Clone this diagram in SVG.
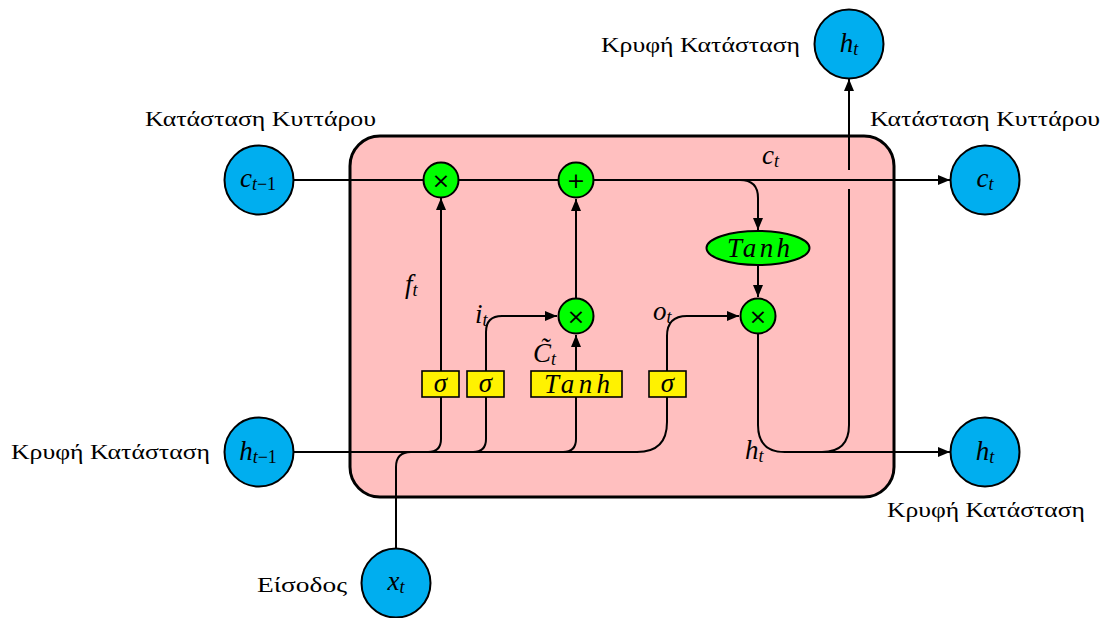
<svg xmlns="http://www.w3.org/2000/svg" width="1104" height="618" viewBox="0 0 1104 618">
<defs>
<marker id="ah" viewBox="0 0 12 10" refX="12" refY="5" markerWidth="12" markerHeight="10" markerUnits="userSpaceOnUse" orient="auto">
<path d="M0,0 L12,5 L0,10 Z" fill="#000"/>
</marker>
<style>
.ext{fill:#00AEEF;stroke:#000;stroke-width:2}
.op{fill:#00FF00;stroke:#000;stroke-width:2}
.gate{fill:#FFF200;stroke:#000;stroke-width:1.6}
.ln{fill:none;stroke:#000;stroke-width:2}
.arr{fill:none;stroke:#000;stroke-width:2;marker-end:url(#ah)}
.gr{font-family:"Liberation Serif","DejaVu Serif",serif;font-size:21px;fill:#000}
.m{font-family:"Liberation Serif","DejaVu Serif",serif;font-style:italic;font-size:27px;fill:#000}
.c{text-anchor:middle}
.s{font-size:18px}
.up{font-style:normal}
.tn{font-size:27px}
.sym{font-family:"DejaVu Sans",sans-serif;font-size:22px;fill:#000;text-anchor:middle}
</style>
</defs>
<rect id="cell" x="350" y="136" width="544" height="361" rx="30" ry="30" fill="#FFBFBF" stroke="#000" stroke-width="3"/>
<g id="connectors">
<path class="ln" d="M294,180 H423"/>
<path class="ln" d="M459,180 H558"/>
<path class="arr" d="M594,180 H950"/>
<path class="arr" d="M594,180 H740 Q758,180 758,198 V230"/>
<path class="arr" d="M758,265 V297"/>
<path class="ln" d="M294,452 H637 Q667,452 667,422 V397"/>
<path class="ln" d="M428,452 Q441,452 441,439 V397"/>
<path class="ln" d="M473,452 Q486,452 486,439 V397"/>
<path class="ln" d="M563,452 Q576,452 576,439 V397"/>
<path class="ln" d="M396,548 V467 Q396,452 411,452"/>
<path class="arr" d="M441,371 V198"/>
<path class="arr" d="M486,371 V332 Q486,316 502,316 H557"/>
<path class="arr" d="M576,371 V335"/>
<path class="arr" d="M576,298 V199"/>
<path class="arr" d="M667,371 V336 Q667,316 687,316 H739"/>
<path class="ln" d="M758,334 V425 Q758,452 785,452 H822 Q849,452 849,425 V189"/>
<path class="arr" d="M849,170 V79"/>
<path class="arr" d="M790,452 H950"/>
</g>
<g id="c_prev"><circle class="ext" cx="259" cy="180" r="34.5"/><text class="m c" x="258" y="187">c<tspan class="s" dy="3">t<tspan class="up">−1</tspan></tspan></text></g>
<g id="h_prev"><circle class="ext" cx="259" cy="452" r="34.5"/><text class="m c" x="258" y="460">h<tspan class="s" dy="3">t<tspan class="up">−1</tspan></tspan></text></g>
<g id="x_t"><circle class="ext" cx="396" cy="583" r="34.5"/><text class="m c" x="396" y="590">x<tspan class="s" dy="3">t</tspan></text></g>
<g id="c_next"><circle class="ext" cx="985" cy="180" r="34.5"/><text class="m c" x="985" y="187">c<tspan class="s" dy="3">t</tspan></text></g>
<g id="h_next"><circle class="ext" cx="985" cy="452" r="34.5"/><text class="m c" x="985" y="460">h<tspan class="s" dy="3">t</tspan></text></g>
<g id="h_top"><circle class="ext" cx="849" cy="44" r="34.5"/><text class="m c" x="849" y="52">h<tspan class="s" dy="3">t</tspan></text></g>
<g id="mul_f"><circle class="op" cx="441" cy="180" r="17.5"/><text class="sym" x="441" y="188">×</text></g>
<g id="add"><circle class="op" cx="576" cy="180" r="17.5"/><text class="sym" x="576" y="188">+</text></g>
<g id="mul_i"><circle class="op" cx="576" cy="316" r="17.5"/><text class="sym" x="576" y="324">×</text></g>
<g id="mul_o"><circle class="op" cx="758" cy="316" r="17.5"/><text class="sym" x="758" y="324">×</text></g>
<g id="tanh_c"><ellipse class="op" cx="758" cy="248" rx="51.5" ry="17"/><text class="m tn" x="727" y="257" textLength="63" lengthAdjust="spacing">Tanh</text></g>
<g id="sig_f"><rect class="gate" x="422" y="371" width="37" height="26"/><text class="m c" x="440.5" y="392">σ</text></g>
<g id="sig_i"><rect class="gate" x="467" y="371" width="37" height="26"/><text class="m c" x="485.5" y="392">σ</text></g>
<g id="tanh_g"><rect class="gate" x="531" y="371" width="91" height="26"/><text class="m tn" x="544" y="393" textLength="66" lengthAdjust="spacing">Tanh</text></g>
<g id="sig_o"><rect class="gate" x="649" y="371" width="37" height="26"/><text class="m c" x="667.5" y="392">σ</text></g>
<g id="labels">
<text class="m" x="762" y="164">c<tspan class="s" dy="3">t</tspan></text>
<text class="m" x="405" y="293">f<tspan class="s" dy="3">t</tspan></text>
<text class="m" x="475" y="323">i<tspan class="s" dy="3">t</tspan></text>
<text class="m" x="653" y="320">o<tspan class="s" dy="3">t</tspan></text>
<text class="m" x="533" y="362">C̃<tspan class="s" dy="3">t</tspan></text>
<text class="m" x="745" y="459">h<tspan class="s" dy="3">t</tspan></text>
<text class="gr" x="145" y="126" textLength="231" lengthAdjust="spacingAndGlyphs">Κατάσταση Κυττάρου</text>
<text class="gr" x="870" y="126" textLength="230" lengthAdjust="spacingAndGlyphs">Κατάσταση Κυττάρου</text>
<text class="gr" x="601" y="52" textLength="199" lengthAdjust="spacingAndGlyphs">Κρυφή Κατάσταση</text>
<text class="gr" x="11" y="459" textLength="199" lengthAdjust="spacingAndGlyphs">Κρυφή Κατάσταση</text>
<text class="gr" x="887" y="517" textLength="198" lengthAdjust="spacingAndGlyphs">Κρυφή Κατάσταση</text>
<text class="gr" x="257" y="592" textLength="90" lengthAdjust="spacingAndGlyphs">Είσοδος</text>
</g>
</svg>
